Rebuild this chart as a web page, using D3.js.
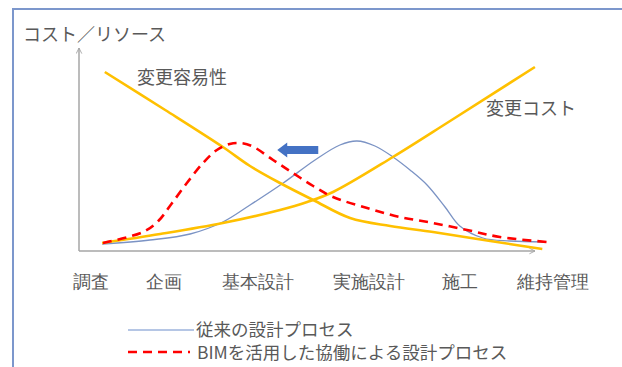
<!DOCTYPE html>
<html><head><meta charset="utf-8">
<script src="https://cdn.jsdelivr.net/npm/d3@7"></script>
<style>
html,body{margin:0;padding:0;background:#fff;}
svg{display:block;font-family:"Noto Sans CJK JP","Noto Sans",sans-serif;}
</style></head>
<body><svg id="c" width="622" height="367"></svg>
<script>
// ---- data (progress 0-100 along project, value 0-100) ----
const stages = ["調査","企画","基本設計","実施設計","施工","維持管理"];
const stagePos = [2.6, 18.4, 38.8, 62.9, 82.6, 102.8];
const easeOfChange = [[5.6,89.5],[18.7,70.5],[31.2,52],[37.1,42.5],[43.6,34],[50.8,25.5],[58.8,16.5],[67.5,12.5],[76.8,9.5],[89.2,5],[100.5,1]];
const costOfChange = [[5,4],[17.6,8.5],[31.2,14],[43.6,20.5],[49.5,24.5],[55.1,29.5],[68.1,47],[80.5,65],[98.9,92]];
const conventional = [[5,3.5],[15.4,5.5],[24.1,8.5],[31.2,14.5],[37.1,23],[44.3,34],[51.2,45.5],[56.6,53],[60.3,55],[64.2,52.5],[68.1,47],[71.8,40.5],[75.5,33],[79.4,22],[82.6,12.5],[87.6,6.5],[93.5,5],[100.8,4.5]];
const bimProcess = [[5.2,4],[13.9,9.5],[17.2,15],[20.2,24],[23.4,34],[26.9,44],[29.9,50.5],[32.7,53.5],[34.9,54],[37.5,52.5],[42.1,45.5],[46.4,39],[50.8,32.5],[55.1,27],[62.5,21.5],[69.6,17],[76.8,14],[84.2,10.5],[91.3,7],[101.5,4.5]];
const shiftArrow = [[51.9,50.5],[43.0,50.5]]; // from, to
const seriesLabels = ["変更容易性","変更コスト"];
const legendLabels = ["従来の設計プロセス","BIMを活用した協働による設計プロセス"];
const yTitle = "コスト／リソース";

const svg = d3.select("#c");
const x = d3.scaleLinear().domain([0,100]).range([79,540]);
const y = d3.scaleLinear().domain([0,100]).range([251,51]);
const textColor = "#595959";
const yellow = "#ffc000";
const blueLine = "#7b93c4";

// frame border
svg.append("path").attr("d","M13,367 V9 H622").attr("fill","none").attr("stroke","#7c97cc").attr("stroke-width",2);

// arrow markers
const defs = svg.append("defs");
defs.append("marker").attr("id","ah").attr("viewBox","0 0 10 10").attr("refX",9).attr("refY",5)
  .attr("markerWidth",7).attr("markerHeight",7).attr("orient","auto").attr("markerUnits","userSpaceOnUse")
  .append("path").attr("d","M1,1 L9,5 L1,9").attr("fill","none").attr("stroke","#a6a6a6").attr("stroke-width",1.3);

// axes
svg.append("line").attr("x1",x(0)).attr("y1",y(0)).attr("x2",x(0)).attr("y2",48)
  .attr("stroke","#a6a6a6").attr("stroke-width",1.5).attr("marker-end","url(#ah)");
svg.append("line").attr("x1",x(0)).attr("y1",y(0)).attr("x2",535).attr("y2",y(0))
  .attr("stroke","#a6a6a6").attr("stroke-width",1.5).attr("marker-end","url(#ah)");

// stage labels via axis
const xAxis = d3.axisBottom(x).tickValues(stagePos).tickFormat((d,i)=>stages[i]).tickSize(0).tickPadding(0);
const gx = svg.append("g").attr("transform",`translate(0,${y(0)})`).call(xAxis);
gx.select(".domain").remove();
gx.selectAll("text").attr("dy",null).attr("y",37).attr("font-size",18).attr("fill",textColor).attr("font-family",null);

const line = d3.line().x(d=>x(d[0])).y(d=>y(d[1])).curve(d3.curveCatmullRom.alpha(0.5));

svg.append("path").datum(conventional).attr("d",line).attr("fill","none").attr("stroke",blueLine).attr("stroke-width",1.3);
svg.append("path").datum(easeOfChange).attr("d",line).attr("fill","none").attr("stroke",yellow).attr("stroke-width",2.6);
svg.append("path").datum(costOfChange).attr("d",line).attr("fill","none").attr("stroke",yellow).attr("stroke-width",2.6);
svg.append("path").datum(bimProcess).attr("d",line).attr("fill","none").attr("stroke","#ff0000").attr("stroke-width",2.6).attr("stroke-dasharray","9,6");

// shift arrow (block arrow)
const [a0,a1] = shiftArrow;
const ax0 = x(a0[0]), ax1 = x(a1[0]), ay = y(a0[1]);
const hb = ax1 + 10;
svg.append("path").attr("d",`M${ax0},${ay-4} L${hb},${ay-4} L${hb},${ay-7.5} L${ax1},${ay} L${hb},${ay+7.5} L${hb},${ay+4} L${ax0},${ay+4} Z`)
  .attr("fill","#4472c4");

// texts
svg.append("text").attr("x",23).attr("y",41).attr("font-size",18).attr("fill",textColor).text(yTitle);
svg.append("text").attr("x",137).attr("y",84).attr("font-size",18).attr("fill",textColor).text(seriesLabels[0]);
svg.append("text").attr("x",486).attr("y",115).attr("font-size",18).attr("fill",textColor).text(seriesLabels[1]);

// legend
svg.append("line").attr("x1",128).attr("x2",194).attr("y1",330).attr("y2",330).attr("stroke","#9db3dd").attr("stroke-width",1.3);
svg.append("text").attr("x",196).attr("y",336).attr("font-size",17.5).attr("fill",textColor).text(legendLabels[0]);
svg.append("line").attr("x1",128).attr("x2",190).attr("y1",352).attr("y2",352).attr("stroke","#ff0000").attr("stroke-width",2.6).attr("stroke-dasharray","9,6");
svg.append("text").attr("x",197).attr("y",358.5).attr("font-size",17.5).attr("fill",textColor).text(legendLabels[1]);
</script></body></html>
